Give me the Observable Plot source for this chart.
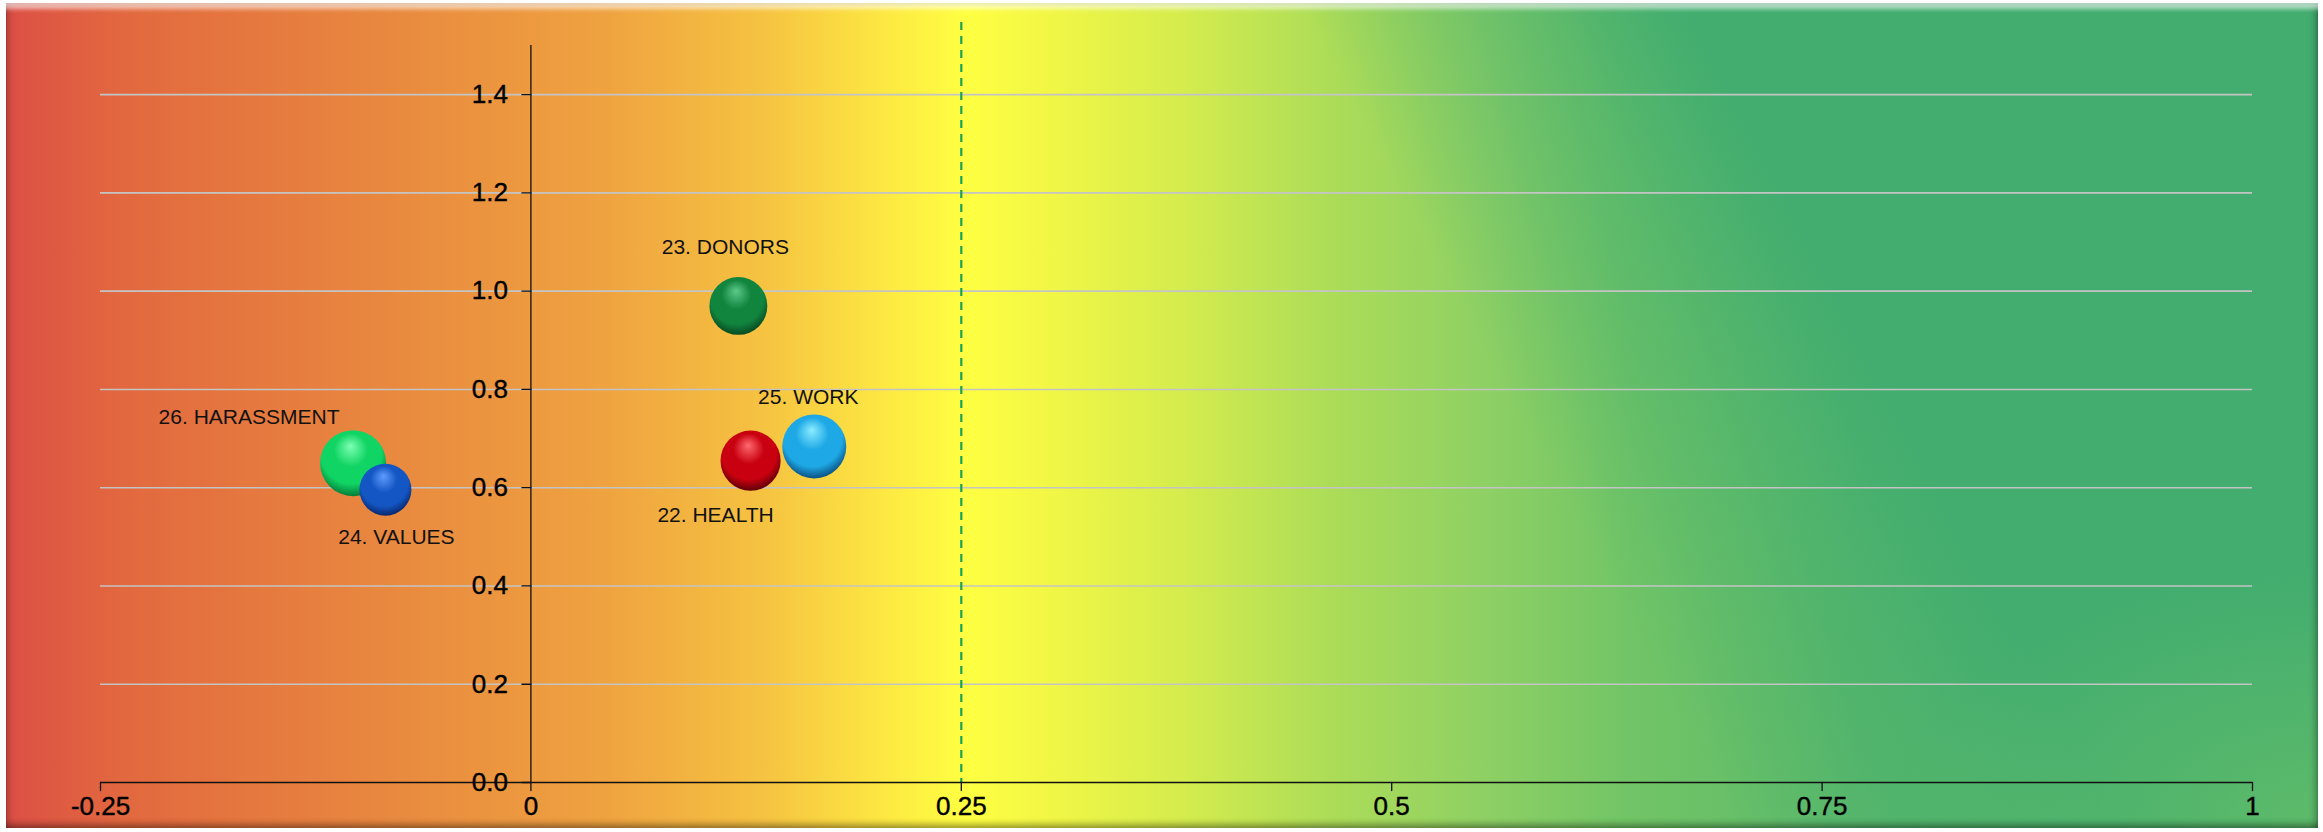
<!DOCTYPE html>
<html>
<head>
<meta charset="utf-8">
<script src="https://cdn.jsdelivr.net/npm/d3@7"></script>
<script src="https://cdn.jsdelivr.net/npm/@observablehq/plot@0.6"></script>
<style>
  html, body { margin: 0; padding: 0; background: #ffffff; }
  #wrap { position: relative; width: 2323px; height: 832px; overflow: hidden; }
  #panel {
    position: absolute; left: 6px; top: 3px; width: 2312px; height: 825px;
    background:
      radial-gradient(ellipse 420px 260px at 100% 100%, rgba(120,200,100,0.5), rgba(120,200,100,0) 100%),
      linear-gradient(62deg, rgba(66,173,111,0) 63%, rgba(66,173,111,0.55) 72%, rgba(66,173,111,1) 77%),
      linear-gradient(90deg, #dc4f45 0%, #e2683f 5%, #e8873f 16%, #efa340 26%, #f6c441 33%, #fde842 38%, #ffff42 41.5%, #f2f745 45%, #d4ec4d 51%, #aedd57 57%, #8ed064 64%, #72c566 70%, #5cb96a 80%, #52b46c 100%);
    box-shadow:
      inset 0 12px 4px -6px rgba(255,255,255,0.6),
      inset 0 3px 2px 0 rgba(0,0,0,0.12),
      inset 7px 0 6px -4px rgba(0,0,0,0.22),
      inset -7px 0 6px -4px rgba(0,0,0,0.28),
      inset 0 -8px 6px -4px rgba(0,0,0,0.35);
  }
  #chart { position: absolute; left: 0; top: 0; }
</style>
</head>
<body>
<div id="wrap">
  <div id="panel"></div>
  <div id="chart"></div>
</div>
<script>
// ---- data ----
const categories = ["22. HEALTH", "23. DONORS", "24. VALUES", "25. WORK", "26. HARASSMENT"];
const xValues = [0.1276, 0.1205, -0.0845, 0.1646, -0.1033];
const yValues = [0.655, 0.970, 0.596, 0.684, 0.650];
const sizes = [0.83, 0.77, 0.62, 0.94, 1.0];
const xTicks = [-0.25, 0, 0.25, 0.5, 0.75, 1];
const yTicks = [0, 0.2, 0.4, 0.6, 0.8, 1.0, 1.2, 1.4];
const threshold = [0.25];

// ---- styles (sphere shading per category) ----
const sphereStyles = [
  {hi: "#ff6a70", mid: "#c8000f", dark: "#4a0006"},   // HEALTH
  {hi: "#5cc98a", mid: "#11843e", dark: "#033d1a"},   // DONORS
  {hi: "#5f9cff", mid: "#1456c4", dark: "#061f5c"},   // VALUES
  {hi: "#8cecff", mid: "#1ea9e6", dark: "#083f6e"},   // WORK
  {hi: "#7dffb3", mid: "#10d463", dark: "#03692f"}    // HARASSMENT
];
// label offsets (pixels) relative to each bubble
const labelOffsets = [
  {dx: -35, dy: 55},
  {dx: -13, dy: -59},
  {dx: 11, dy: 48},
  {dx: -6, dy: -49},
  {dx: -104, dy: -46}
];

const points = categories.map((c, i) => ({
  name: c, x: xValues[i], y: yValues[i], size: sizes[i], fill: `url(#sph${i})`
}));

// gradient defs
const ns = "http://www.w3.org/2000/svg";
const defsSvg = document.createElementNS(ns, "svg");
defsSvg.setAttribute("width", 0);
defsSvg.setAttribute("height", 0);
defsSvg.style.position = "absolute";
let defsHtml = "<defs>";
sphereStyles.forEach((s, i) => {
  defsHtml += `<radialGradient id="sph${i}" cx="0.48" cy="0.40" r="0.64" fx="0.46" fy="0.24">
    <stop offset="0%" stop-color="${s.hi}"/>
    <stop offset="40%" stop-color="${s.mid}"/>
    <stop offset="72%" stop-color="${s.mid}"/>
    <stop offset="100%" stop-color="${s.dark}"/>
  </radialGradient>`;
});
defsHtml += "</defs>";
defsSvg.innerHTML = defsHtml;
document.getElementById("wrap").appendChild(defsSvg);

const tickShape = {draw(ctx, l) { ctx.moveTo(0, 0); ctx.lineTo(0, -l); }};

const labelMarks = points.map((p, i) =>
  Plot.text([p], {x: "x", y: "y", text: "name", dx: labelOffsets[i].dx, dy: labelOffsets[i].dy,
    fontSize: 21, fill: "#111"})
);

const chart = Plot.plot({
  width: 2323,
  height: 832,
  marginLeft: 100,
  marginRight: 71,
  marginTop: 45,
  marginBottom: 50,
  style: {background: "transparent", fontFamily: "'Liberation Sans', Arial, sans-serif", overflow: "visible"},
  x: {domain: [-0.25, 1], axis: null},
  y: {domain: [0, 1.5], axis: null},
  r: {type: "sqrt", domain: [0, 1], range: [0, 33]},
  color: {type: "identity"},
  marks: [
    // gridlines
    Plot.ruleY(yTicks.filter(d => d !== 0), {y: d => d, stroke: "#c4c4c4", strokeWidth: 1.6}),
    // threshold dashed line
    Plot.ruleX(threshold, {x: d => d, stroke: "#1aa25a", strokeWidth: 2.2, strokeDasharray: "8,6", insetTop: -23}),
    // axes lines
    Plot.ruleY([0], {stroke: "#111", strokeWidth: 1.3}),
    Plot.ruleX([0], {stroke: "#111", strokeWidth: 1.3}),
    // ticks
    Plot.vector(xTicks, {x: d => d, frameAnchor: "bottom", length: 8, rotate: 180, anchor: "start", shape: tickShape, stroke: "#111", strokeWidth: 1.3}),
    Plot.vector(yTicks, {x: 0, y: d => d, length: 9, rotate: -90, anchor: "start", shape: tickShape, stroke: "#111", strokeWidth: 1.3}),
    // tick labels
    Plot.text(xTicks, {x: d => d, frameAnchor: "bottom", dy: 32, text: d => String(d), fontSize: 26, fill: "#000", stroke: "#000", strokeWidth: 0.4}),
    Plot.text(yTicks, {x: 0, y: d => d, dx: -23, textAnchor: "end", text: d => d3.format(".1f")(d), fontSize: 26, fill: "#000", stroke: "#000", strokeWidth: 0.4}),
    // bubbles
    Plot.dot(points, {x: "x", y: "y", r: "size", fill: "fill", stroke: null}),
    ...labelMarks
  ]
});
document.getElementById("chart").appendChild(chart);
</script>
</body>
</html>
